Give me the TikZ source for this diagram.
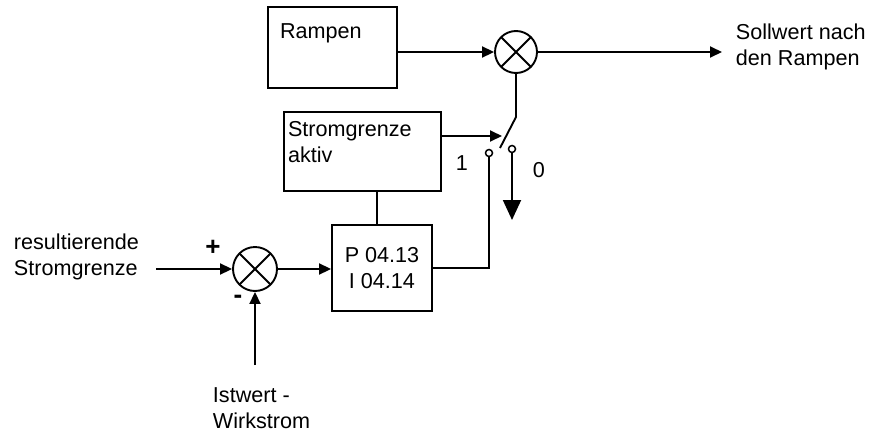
\documentclass[tikz,border=0pt]{standalone}
\usepackage{fontspec}
\setmainfont{Liberation Sans}
\usetikzlibrary{arrows.meta}

\begin{document}
\begin{tikzpicture}[x=1pt,y=-1pt,line width=1.9pt,>={Triangle[length=12pt,width=11pt]},
  font=\fontsize{21.6}{26}\selectfont,
  block/.style={draw,rectangle,inner sep=0pt},
  summer/.style={draw,circle,minimum size=42pt,inner sep=0pt,
    path picture={\draw (path picture bounding box.north west)--(path picture bounding box.south east)
      (path picture bounding box.north east)--(path picture bounding box.south west);}},
  contact/.style={draw,circle,fill=white,minimum size=7pt,inner sep=0pt,line width=1.5pt},
  txt/.style={inner sep=0pt,align=left,anchor=north west}]
  \useasboundingbox (0,0) rectangle (873,434);
  % Bloecke
  \node[block,minimum width=129pt,minimum height=81pt,
    label={[txt,xshift=12pt,yshift=-16.5pt]north west:Rampen}] (rampen) at (332.5,47.5){};
  \node[block,minimum width=157pt,minimum height=79pt,
    label={[txt,xshift=4pt,yshift=-9pt]north west:Stromgrenze\\aktiv}] (aktiv) at (362.5,151.5){};
  \node[block,minimum width=100pt,minimum height=86pt,align=center] (pi) at (382,268){P 04.13\\I 04.14};
  \node[summer] (topsum) at (516,52){};
  \node[summer,minimum size=44pt] (lowsum) at (255,269){};
  % Schalter
  \coordinate (sw1) at (516,117); \coordinate (sw2) at (500,148); \coordinate (swin) at (502,136);
  \node[contact] (c1) at (489,153){}; \node[contact] (c0) at (512,149){};
  \coordinate (gnd) at (512,220); \coordinate (out) at (722,52);
  \coordinate (in) at (156,269); \coordinate (ist) at (255,365);
  % Texte
  \node[txt] (intxt) at (13,232.5){resultierende\\Stromgrenze};
  \node[txt] (outtxt) at (735,22.5){Sollwert nach\\den Rampen};
  \node[txt] (isttxt) at (212,387){Istwert -\\Wirkstrom};
  \node[font=\fontsize{26}{30}\bfseries] (plus) at (213,248){+};
  \node[font=\fontsize{26}{30}\bfseries] (minus) at (238,299){-};
  \node (eins) at (462,163){1}; \node (null) at (539,170){0};
  % Verbindungen
  \draw[->] (rampen.east |- topsum.west) -- (topsum.west);
  \draw[->] (topsum.east) -- (out);
  \draw (topsum.south) -- (sw1) -- (sw2);
  \draw[->] (aktiv.east |- swin) -- (swin);
  \draw[->,>={Triangle[length=20pt,width=18pt]}] (c0.south) -- (gnd);
  \draw (c1.south) |- (pi.east);
  \draw ([xshift=-5pt]pi.north) -- ([xshift=-5pt]pi.north |- aktiv.south);
  \draw[->] (in) -- (lowsum.west);
  \draw[->] (ist) -- (lowsum.south);
  \draw[->] (lowsum.east) -- (lowsum.east -| pi.west);
\end{tikzpicture}
\end{document}
